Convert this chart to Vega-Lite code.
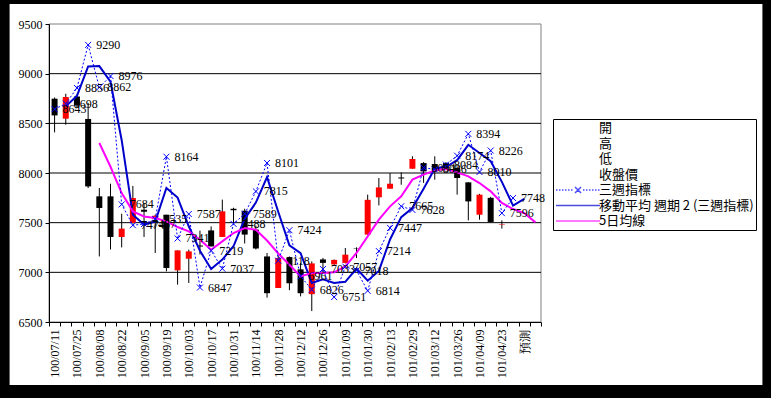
{
  "$schema": "https://vega.github.io/schema/vega-lite/v6.json",
  "width": 492,
  "height": 298,
  "autosize": {"type": "none"},
  "padding": {"left": 49, "top": 24, "right": 230, "bottom": 76},
  "background": "black",
  "config": {"view": {"stroke": null}},
  "datasets": {
    "weeks": [
      {"d":"100/07/11","o":8748,"h":8760,"l":8409,"c":8580,"w":8643,"m2":null,"m5":null},
      {"d":"100/07/18","o":8547,"h":8798,"l":8486,"c":8765,"w":8698,"m2":8670.5,"m5":null},
      {"d":"100/07/25","o":8770,"h":8790,"l":8660,"c":8680,"w":8856,"m2":8777,"m5":null},
      {"d":"100/08/01","o":8544,"h":8705,"l":7849,"c":7865,"w":9290,"m2":9073,"m5":null},
      {"d":"100/08/08","o":7765,"h":7849,"l":7160,"c":7648,"w":8862,"m2":9076,"m5":8302},
      {"d":"100/08/15","o":7765,"h":7892,"l":7230,"c":7356,"w":8976,"m2":8919,"m5":8063},
      {"d":"100/08/22","o":7356,"h":7590,"l":7251,"c":7440,"w":7684,"m2":8330,"m5":7798},
      {"d":"100/08/29","o":7497,"h":7870,"l":7490,"c":7748,"w":7474,"m2":7579,"m5":7614},
      {"d":"100/09/05","o":7630,"h":7698,"l":7356,"c":7610,"w":7487,"m2":7480.5,"m5":7563},
      {"d":"100/09/12","o":7537,"h":7580,"l":7195,"c":7570,"w":7535,"m2":7511,"m5":7547},
      {"d":"100/09/19","o":7580,"h":7580,"l":7010,"c":7044,"w":8164,"m2":7849.5,"m5":7513},
      {"d":"100/09/26","o":7020,"h":7221,"l":6876,"c":7221,"w":7341,"m2":7752.5,"m5":7456},
      {"d":"100/10/03","o":7137,"h":7228,"l":6893,"c":7211,"w":7587,"m2":7464,"m5":7412},
      {"d":"100/10/10","o":7270,"h":7420,"l":7180,"c":7260,"w":6847,"m2":7217,"m5":7329},
      {"d":"100/10/17","o":7422,"h":7462,"l":7261,"c":7261,"w":7219,"m2":7033,"m5":7228},
      {"d":"100/10/24","o":7356,"h":7732,"l":7356,"c":7614,"w":7037,"m2":7128,"m5":7312},
      {"d":"100/10/31","o":7640,"h":7650,"l":7500,"c":7625,"w":7488,"m2":7262.5,"m5":7396},
      {"d":"100/11/07","o":7620,"h":7640,"l":7290,"c":7380,"w":7589,"m2":7538.5,"m5":7446},
      {"d":"100/11/14","o":7430,"h":7470,"l":7230,"c":7240,"w":7815,"m2":7702,"m5":7429},
      {"d":"100/11/21","o":7160,"h":7195,"l":6745,"c":6790,"w":8101,"m2":7958,"m5":7320},
      {"d":"100/11/28","o":6842,"h":7170,"l":6842,"c":7144,"w":7118,"m2":7609.5,"m5":7190},
      {"d":"100/12/05","o":7150,"h":7160,"l":6820,"c":6890,"w":7424,"m2":7271,"m5":7077},
      {"d":"100/12/12","o":7030,"h":7094,"l":6758,"c":6790,"w":6961,"m2":7192.5,"m5":6959},
      {"d":"100/12/19","o":6780,"h":7110,"l":6610,"c":7090,"w":6826,"m2":6893.5,"m5":6993},
      {"d":"100/12/26","o":7130,"h":7145,"l":6995,"c":7095,"w":7033,"m2":6929.5,"m5":6993},
      {"d":"101/01/02","o":7080,"h":7130,"l":7075,"c":7125,"w":6751,"m2":6892,"m5":7000},
      {"d":"101/01/09","o":7095,"h":7245,"l":7090,"c":7178,"w":7057,"m2":6904,"m5":7060},
      {"d":"101/01/16","o":7240,"h":7251,"l":7144,"c":7236,"w":7018,"m2":7037.5,"m5":7195},
      {"d":"101/01/30","o":7380,"h":7782,"l":7379,"c":7730,"w":6814,"m2":6916,"m5":7362},
      {"d":"101/02/06","o":7755,"h":7950,"l":7674,"c":7855,"w":7214,"m2":7014,"m5":7530},
      {"d":"101/02/13","o":7842,"h":7999,"l":7842,"c":7892,"w":7447,"m2":7330.5,"m5":7664},
      {"d":"101/02/20","o":7955,"h":8006,"l":7882,"c":7945,"w":7665,"m2":7556,"m5":7765},
      {"d":"101/02/29","o":8043,"h":8168,"l":8043,"c":8141,"w":7628,"m2":7646.5,"m5":7933},
      {"d":"101/03/05","o":8100,"h":8110,"l":7900,"c":8016,"w":8054,"m2":7841,"m5":7983},
      {"d":"101/03/12","o":8090,"h":8168,"l":7933,"c":8030,"w":8036,"m2":8045,"m5":8026},
      {"d":"101/03/19","o":8100,"h":8110,"l":8040,"c":8050,"w":8084,"m2":8060,"m5":8040},
      {"d":"101/03/26","o":8050,"h":8067,"l":7782,"c":7950,"w":8174,"m2":8129,"m5":8006},
      {"d":"101/04/02","o":7906,"h":7906,"l":7523,"c":7714,"w":8394,"m2":8284,"m5":7966},
      {"d":"101/04/09","o":7580,"h":7790,"l":7530,"c":7782,"w":8010,"m2":8202,"m5":7899},
      {"d":"101/04/16","o":7750,"h":7760,"l":7500,"c":7507,"w":8226,"m2":8118,"m5":7815},
      {"d":"101/04/23","o":7478,"h":7523,"l":7440,"c":7483,"w":7596,"m2":7911,"m5":7698},
      {"d":"101/04/30","o":null,"h":null,"l":null,"c":null,"w":7748,"m2":7672,"m5":7637},
      {"d":"預測","o":null,"h":null,"l":null,"c":null,"w":null,"m2":7740,"m5":7597},
      {"d":"預測後","o":null,"h":null,"l":null,"c":null,"w":null,"m2":null,"m5":7503}
    ],
    "grid": [{"g":7000},{"g":7500},{"g":8000},{"g":8500},{"g":9000}],
    "none": []
  },
  "layer": [
    {
      "data": {"values": [{}]},
      "mark": {"type": "rect", "color": "white", "xOffset": -45, "x2Offset": 227, "yOffset": -20, "y2Offset": 63, "clip": false},
      "encoding": {
        "x": {"datum": "100/07/11", "type": "ordinal", "title": null},
        "x2": {"datum": "預測後"},
        "y": {"datum": 9500, "type": "quantitative", "title": null, "scale": {"domain": [6500, 9500], "nice": false, "zero": false}},
        "y2": {"datum": 6500}
      }
    },
    {
      "data": {"values": [{}]},
      "mark": {"type": "rect", "fillOpacity": 0, "stroke": "#808080", "strokeWidth": 1},
      "encoding": {
        "y": {"datum": 9500, "type": "quantitative", "title": null},
        "y2": {"datum": 6500}
      }
    },
    {
      "data": {"name": "grid"},
      "mark": {"type": "rule", "color": "black", "strokeWidth": 1},
      "encoding": {"y": {"field": "g", "type": "quantitative", "title": null}}
    },
    {
      "data": {"name": "weeks"},
      "mark": {"type": "rule", "color": "black", "strokeWidth": 1},
      "encoding": {
        "x": {
          "field": "d", "type": "ordinal",
          "scale": {"domain": ["100/07/11","100/07/18","100/07/25","100/08/01","100/08/08","100/08/15","100/08/22","100/08/29","100/09/05","100/09/12","100/09/19","100/09/26","100/10/03","100/10/10","100/10/17","100/10/24","100/10/31","100/11/07","100/11/14","100/11/21","100/11/28","100/12/05","100/12/12","100/12/19","100/12/26","101/01/02","101/01/09","101/01/16","101/01/30","101/02/06","101/02/13","101/02/20","101/02/29","101/03/05","101/03/12","101/03/19","101/03/26","101/04/02","101/04/09","101/04/16","101/04/23","101/04/30","預測","預測後"], "paddingInner": 0, "paddingOuter": 0},
          "axis": {
            "title": null, "zindex": 1, "labelAngle": 270, "labelFont": "Liberation Serif", "labelFontSize": 12, "labelColor": "black",
            "labelPadding": 3, "tickBand": "extent", "tickSize": 4, "tickColor": "black", "domainColor": "black", "labelOverlap": false, "grid": false,
            "labelExpr": "indexof(['100/07/11','100/07/25','100/08/08','100/08/22','100/09/05','100/09/19','100/10/03','100/10/17','100/10/31','100/11/14','100/11/28','100/12/12','100/12/26','101/01/09','101/01/30','101/02/13','101/02/29','101/03/12','101/03/26','101/04/09','101/04/23','預測'], datum.value) >= 0 ? datum.label : ''"
          }
        },
        "y": {
          "field": "l", "type": "quantitative",
          "axis": {"title": null, "zindex": 1, "values": [6500,7000,7500,8000,8500,9000,9500], "format": "d", "labelFont": "Liberation Serif", "labelFontSize": 12, "labelColor": "black", "tickSize": 4, "tickColor": "black", "domainColor": "black", "grid": false, "labelPadding": 3}
        },
        "y2": {"field": "h"}
      }
    },
    {
      "data": {"name": "weeks"},
      "mark": {"type": "bar", "width": 6},
      "encoding": {
        "x": {"field": "d", "type": "ordinal", "title": null},
        "y": {"field": "o", "type": "quantitative", "title": null},
        "y2": {"field": "c"},
        "color": {"condition": {"test": "datum.c > datum.o", "value": "#FF0000"}, "value": "#000000"}
      }
    },
    {
      "data": {"name": "weeks"},
      "mark": {"type": "line", "color": "#0000CC", "strokeWidth": 2},
      "encoding": {
        "x": {"field": "d", "type": "ordinal", "title": null},
        "y": {"field": "m2", "type": "quantitative", "title": null}
      }
    },
    {
      "data": {"name": "weeks"},
      "mark": {"type": "line", "color": "#FF00FF", "strokeWidth": 2},
      "encoding": {
        "x": {"field": "d", "type": "ordinal", "title": null},
        "y": {"field": "m5", "type": "quantitative", "title": null}
      }
    },
    {
      "data": {"name": "weeks"},
      "mark": {"type": "line", "color": "#0000FF", "strokeWidth": 1, "strokeDash": [2, 2]},
      "encoding": {
        "x": {"field": "d", "type": "ordinal", "title": null},
        "y": {"field": "w", "type": "quantitative", "title": null}
      }
    },
    {
      "data": {"name": "weeks"},
      "mark": {"type": "point", "shape": "M-1,-1L1,1M-1,1L1,-1", "size": 36, "filled": false, "color": "#0000FF", "strokeWidth": 1, "opacity": 1},
      "encoding": {
        "x": {"field": "d", "type": "ordinal", "title": null},
        "y": {"field": "w", "type": "quantitative", "title": null}
      }
    },
    {
      "data": {"name": "weeks"},
      "transform": [{"filter": "isValid(datum.w)"}],
      "mark": {"type": "text", "align": "left", "baseline": "middle", "dx": 8, "font": "Liberation Serif", "fontSize": 12, "color": "black"},
      "encoding": {
        "x": {"field": "d", "type": "ordinal", "title": null},
        "y": {"field": "w", "type": "quantitative", "title": null},
        "text": {"field": "w", "type": "quantitative", "format": "d"}
      }
    },
    {
      "data": {"name": "none"},
      "mark": {"type": "point", "filled": false, "strokeWidth": 2},
      "encoding": {
        "color": {
          "field": "s", "type": "nominal",
          "scale": {"domain": ["開","高","低","收盤價","三週指標","移動平均 週期 2 (三週指標)","5日均線"], "range": ["transparent","transparent","transparent","transparent","#0000FF","#0000CC","#FF00FF"]},
          "legend": {
            "title": null, "orient": "none", "legendX": 504, "legendY": 95,
            "fillColor": "white", "strokeColor": "black", "padding": 2,
            "labelFont": "Noto Sans CJK TC", "labelFontSize": 13, "labelColor": "black", "labelLimit": 300,
            "symbolSize": 144, "rowPadding": 1.5, "labelOffset": 30,
            "encode": {"symbols": {"update": {"strokeWidth": {"signal": "datum.value === '三週指標' ? 1 : 2"}}}}
          }
        },
        "shape": {
          "field": "s", "type": "nominal",
          "scale": {"domain": ["開","高","低","收盤價","三週指標","移動平均 週期 2 (三週指標)","5日均線"], "range": ["M-1,0H6.33","M-1,0H6.33","M-1,0H6.33","M-1,0H6.33","M-1,0h0.25M-0.5,0h0.25M0,0h0.25M0.5,0h0.25M1,0h0.25M1.5,0h0.25M3.5,0h0.25M4,0h0.25M4.5,0h0.25M5,0h0.25M5.5,0h0.25M6,0h0.25M2.17,-0.5L3.17,0.5M2.17,0.5L3.17,-0.5","M-1,0H6.33","M-1,0H6.33"]}
        }
      }
    }
  ]
}
